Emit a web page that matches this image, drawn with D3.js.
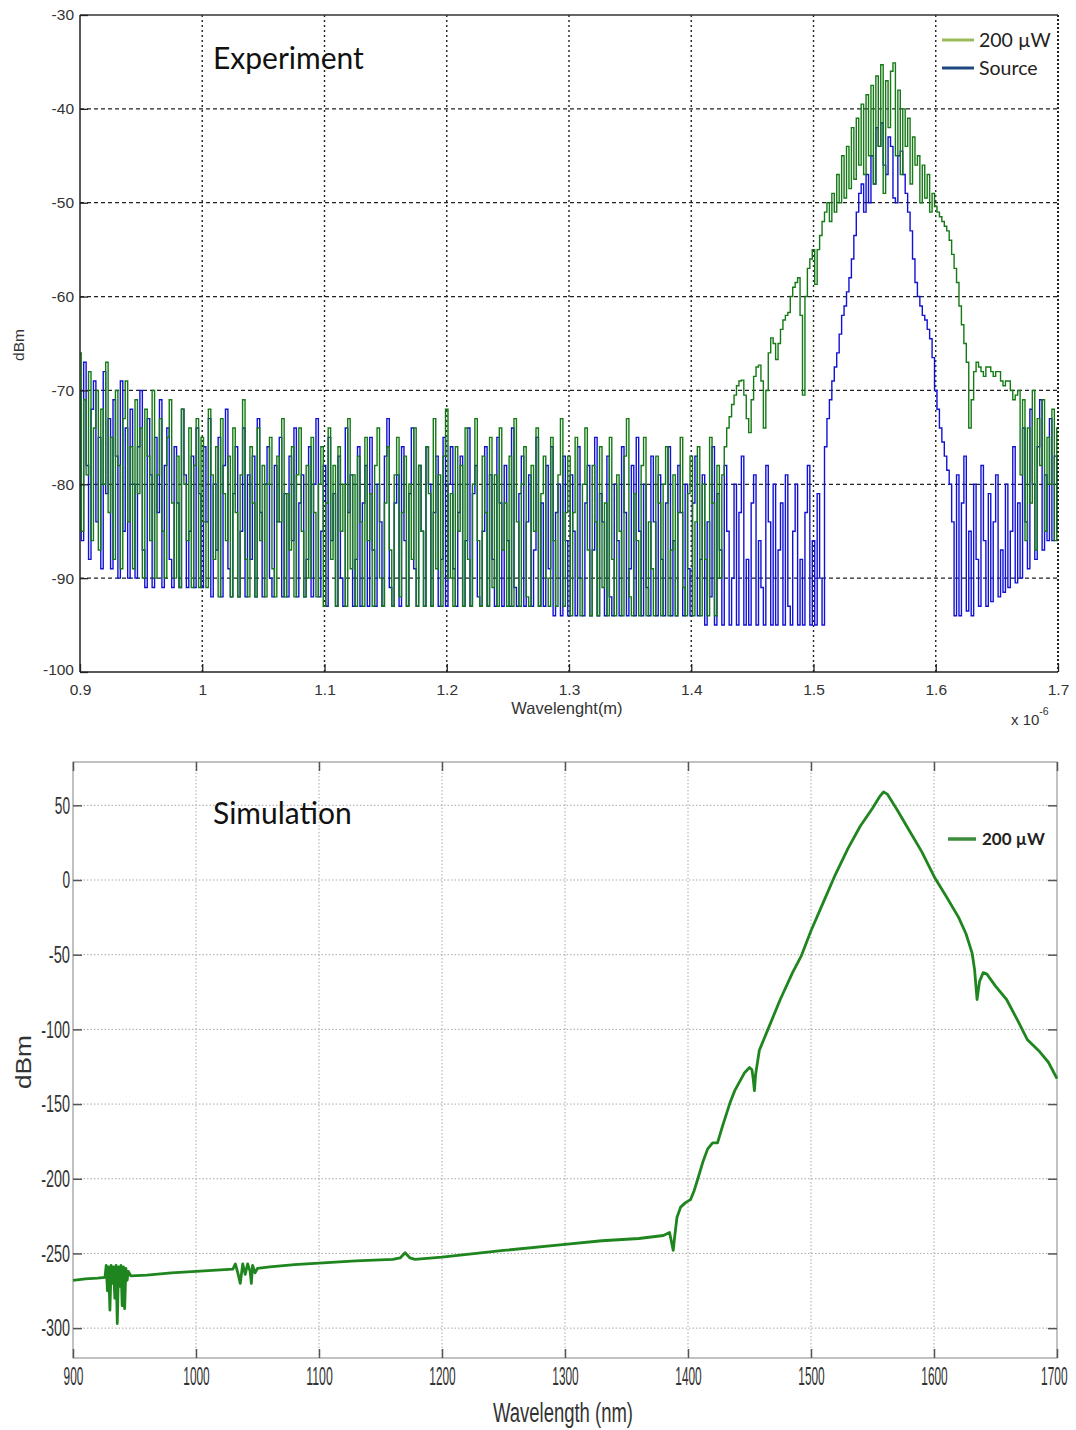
<!DOCTYPE html>
<html><head><meta charset="utf-8">
<script src="https://cdn.jsdelivr.net/npm/d3@7"></script>
<style>body{margin:0;background:#fff}svg{display:block}</style>
</head><body>
<svg id="c" width="1076" height="1430"></svg>
<script>
// ---------- DATA ----------
// Experiment: wavelength grid (µm) start / step (dBm)
const expStart = 0.9, expStep = 0.002;
const expXTicks = [0.9,1.0,1.1,1.2,1.3,1.4,1.5,1.6,1.7];
const expXTickLabels = ["0.9","1","1.1","1.2","1.3","1.4","1.5","1.6","1.7"];
const expYTicks = [-30,-40,-50,-60,-70,-80,-90,-100];
const exp200uW = [
 // 0.9 - 1.0
 -66,-85,-71,-79,-68,-86,-74,-70,-87,-72,-80,-67,-83,-75,-88,-70,-78,-89,-73,-69,-84,-76,-89,-71,-81,
 -74,-90,-72,-77,-86,-70,-90,-79,-73,-85,-90,-75,-71,-82,-90,-77,-91,-72,-80,-86,-74,-91,-78,-73,-91,
 // 1.0 - 1.1
 -75,-84,-91,-72,-79,-88,-76,-92,-73,-81,-86,-77,-92,-74,-83,-92,-79,-71,-88,-92,-76,-82,-92,-74,-86,
 -78,-92,-80,-75,-89,-92,-77,-84,-73,-92,-81,-87,-76,-92,-79,-74,-85,-92,-78,-90,-75,-83,-92,-80,-76,
 // 1.1 - 1.2
 -93,-82,-74,-88,-78,-93,-76,-85,-80,-93,-73,-89,-79,-93,-77,-84,-93,-75,-86,-81,-93,-78,-74,-90,-93,
 -82,-76,-87,-93,-79,-75,-92,-83,-77,-93,-80,-88,-74,-93,-78,-85,-93,-76,-81,-93,-73,-89,-79,-93,-77,
 // 1.2 - 1.3
 -72,-90,-81,-93,-76,-85,-78,-93,-74,-88,-93,-80,-73,-86,-93,-77,-83,-93,-75,-91,-79,-93,-74,-87,-82,
 -93,-77,-93,-73,-84,-93,-80,-76,-92,-93,-78,-85,-74,-93,-81,-77,-90,-93,-75,-86,-93,-79,-73,-93,-83,
 // 1.3 - 1.4
 -77,-94,-83,-75,-90,-94,-80,-74,-87,-94,-78,-84,-94,-76,-91,-82,-94,-75,-88,-94,-79,-85,-94,-77,-73,
 -92,-94,-81,-86,-94,-78,-75,-94,-84,-89,-94,-77,-82,-94,-80,-76,-94,-87,-79,-94,-83,-75,-91,-94,-81,
 // 1.4 - 1.43
 -77,-94,-84,-76,-94,-80,-88,-94,-75,-82,-94,-78,-90,-79,-76,
 // 1.43 - 1.51
 -74,-72.8,-71.5,-70.5,-69.5,-69,-68.9,-70.5,-73,-74.5,-71,-68.5,-67.5,-67.3,-69,-74,-70,-66,-64.4,-65,
 -66.7,-65,-63.5,-62.5,-62,-61.7,-60,-59,-58.5,-58,-62,-70.5,-60,-57,-56,-55,-58.7,-55,-53.5,-52,-51,
 // 1.512 - 1.6
 -50,-52,-49,-51,-47,-50,-45,-49.5,-44,-48.5,-42,-47.5,-41,-46,-39.5,-47,-38.5,-45,-37.5,-48,-36.5,-44,
 -35.3,-49,-37,-42,-36,-35.1,-45,-38,-47,-40,-44,-41,-48,-43,-46,-45,-50,-46,-49.5,-47,-51,-49,-50.4,
 // 1.602 - 1.668
 -51,-51.5,-52,-52.5,-53,-54,-55.5,-57,-58.5,-61,-63,-65,-67,-74,-71,-68,-67,-67.5,-68,-68.5,-67.5,
 -67.5,-68,-68.5,-68,-68,-69,-69.5,-69,-69,-70,-71,-70.5,-70,
 // 1.67 - 1.7
 -79,-71,-86,-74,-82,-70,-87,-73,-78,-71,-85,-75,-80,-72,-86,-74
];
const expSource = [
 // 0.9 - 1.0
 -70,-86,-67,-78,-88,-72,-69,-84,-75,-89,-68,-81,-73,-89,-71,-77,-90,-69,-85,-74,-90,-72,-80,-90,-76,
 -70,-87,-91,-73,-79,-91,-75,-83,-71,-91,-78,-74,-88,-91,-76,-82,-91,-72,-79,-91,-85,-77,-91,-74,-81,
 // 1.0 - 1.1
 -91,-76,-84,-73,-92,-80,-87,-75,-92,-78,-72,-89,-92,-81,-76,-92,-85,-74,-92,-79,-88,-77,-92,-73,-83,
 -92,-80,-76,-90,-92,-78,-84,-75,-92,-81,-92,-77,-86,-74,-92,-82,-79,-92,-88,-76,-92,-80,-73,-92,-85,
 // 1.1 - 1.2
 -78,-93,-75,-86,-81,-93,-77,-90,-93,-74,-83,-79,-93,-88,-76,-93,-82,-78,-93,-75,-87,-93,-80,-84,-93,
 -77,-73,-91,-93,-82,-79,-93,-76,-86,-93,-81,-74,-89,-93,-78,-85,-93,-76,-80,-93,-83,-77,-93,-88,-75,
 // 1.2 - 1.3
 -93,-80,-76,-89,-93,-83,-77,-93,-86,-74,-93,-81,-78,-92,-93,-85,-76,-93,-79,-88,-93,-75,-82,-93,-78,
 -86,-93,-74,-91,-93,-81,-77,-93,-84,-79,-93,-87,-75,-93,-82,-93,-78,-89,-76,-94,-83,-80,-94,-77,-86,
 // 1.3 - 1.4
 -94,-79,-85,-94,-76,-90,-94,-82,-78,-94,-87,-75,-94,-81,-84,-94,-77,-92,-94,-80,-86,-94,-76,-83,-94,
 -89,-78,-94,-75,-85,-94,-80,-91,-94,-77,-84,-94,-79,-88,-94,-82,-76,-94,-86,-94,-78,-83,-94,-80,-89,
 // 1.4 - 1.51
 -94,-82,-77,-94,-88,-79,-95,-84,-92,-76,-95,-81,-87,-95,-78,-85,-95,-90,-80,-95,-83,-77,-95,-88,-95,
 -82,-79,-95,-86,-91,-95,-78,-84,-95,-80,-95,-87,-82,-95,-79,-93,-95,-85,-80,-95,-88,-95,-83,-78,-95,
 -86,-95,-81,-90,-95,-76,
 // 1.512 - 1.6
 -73,-71,-69,-67.5,-66,-64,-62,-61,-59.5,-58,-56,-53.5,-51,-49,-48,-51,-47,-50,-45,-48,-42,-44,-41.5,
 -46,-47,-43,-44,-49.5,-50,-45,-44.5,-47,-49,-51,-53,-56,-58.5,-60,-61,-62,-62.5,-63.5,-64.5,-66.5,-70,
 // 1.602 - 1.668
 -72,-74,-75.5,-77,-78.5,-80,-84,-94,-79,-94,-82,-77,-93.5,-85,-94,-80,-88,-93,-78,-86,-93,-81,-92.5,
 -84,-79,-92,-87,-91.5,-80,-91,-85,-76,-90.5,-82,
 // 1.67 - 1.7
 -90,-74,-84,-89,-72,-80,-88,-76,-71,-87,-79,-86,-73,-86,-77,-85
];
const expSeriesNames = ["200 µW","Source"];

// Simulation: [wavelength nm, dBm]
const simXTicks = [900,1000,1100,1200,1300,1400,1500,1600,1700];
const simYTicks = [50,0,-50,-100,-150,-200,-250,-300];
const sim200uW = [
 [900,-268],[910,-267],[920,-266.5],[926,-266],
 [927,-258],[928,-275],[929,-259],[930,-288],[931,-258],[932,-270],[933,-259],[934,-280],[935,-258],[936,-297],
 [937,-259],[938,-272],[939,-258],[940,-285],[941,-259],[942,-287],[943,-260],[944,-268],[945,-262],[947,-265],
 [960,-264.5],[980,-263],[1000,-262],[1020,-261],[1030,-260.5],
 [1032,-257],[1034,-263],[1036,-270],[1038,-257],[1040,-264],[1042,-257],[1044,-262],[1045,-270],[1046,-258],
 [1048,-263],[1050,-260],
 [1060,-259],[1080,-257.5],[1100,-256.5],[1130,-255],[1160,-254],[1166,-253],[1170,-249.5],[1174,-253],[1178,-254],
 [1200,-252.5],[1250,-248],[1300,-244],[1330,-241.5],[1340,-241],[1360,-240],[1380,-238],[1385,-236],[1387,-244],
 [1388,-248],[1389,-240],[1391,-226],[1394,-219],[1398,-216],[1402,-214],[1405,-208],[1408,-200],[1412,-189],
 [1416,-180],[1420,-176],[1424,-176],[1428,-165],[1434,-149.5],[1438,-141],[1442,-135],[1446,-129],[1450,-125.5],
 [1452,-127],[1453,-133],[1454,-141],[1455,-130],[1458,-114],[1465,-100],[1475,-80],[1485,-62],[1492,-51],
 [1500,-34],[1510,-15],[1520,4],[1530,21],[1540,36],[1550,48],[1556,56],[1559,59],[1562,57.5],[1570,47],[1580,33],
 [1590,19],[1601,1],[1610,-11],[1620,-25],[1626,-36],[1631,-49],[1633,-60],[1635,-80],[1637,-68],[1640,-62],
 [1643,-63],[1650,-71],[1659,-80],[1668,-94],[1676,-107],[1686,-115],[1693,-122],[1700,-133]
];

// ---------- DRAW ----------
const svg = d3.select("#c");
const sans = "'Liberation Sans', Arial, sans-serif";
const cal = "Lato, 'Open Sans', sans-serif";
const fmt = d => String(d);

// ===== Experiment chart =====
const x1 = d3.scaleLinear([0.9,1.7],[80,1058]);
const y1 = d3.scaleLinear([-100,-30],[672,15]);
const g1 = svg.append("g");
g1.selectAll(".hg").data(expYTicks.filter(d=>d>-100&&d<-30)).join("line")
  .attr("x1",80).attr("x2",1058).attr("y1",d=>y1(d)).attr("y2",d=>y1(d))
  .attr("stroke","#222").attr("stroke-width",1.2).attr("stroke-dasharray","4,3");
g1.selectAll(".vg").data(expXTicks.slice(1,-1)).join("line")
  .attr("y1",15).attr("y2",672).attr("x1",d=>x1(d)).attr("x2",d=>x1(d))
  .attr("stroke","#222").attr("stroke-width",1.4).attr("stroke-dasharray","2,3");

const idx = (arr)=>arr.map((v,i)=>[expStart+i*expStep, v]);
const lineE = d3.line().x(d=>x1(d[0])).y(d=>y1(d[1])).curve(d3.curveStep);
g1.append("path").attr("d",lineE(idx(expSource))).attr("fill","none")
  .attr("stroke","#1212d6").attr("stroke-width",1.4);
g1.append("path").attr("d",lineE(idx(exp200uW))).attr("fill","none")
  .attr("stroke","#157a15").attr("stroke-width",1.4);

// frame
g1.append("line").attr("x1",80).attr("x2",1058).attr("y1",15).attr("y2",15).attr("stroke","#333").attr("stroke-width",1.3);
g1.append("line").attr("x1",80).attr("x2",1058).attr("y1",672).attr("y2",672).attr("stroke","#222").attr("stroke-width",1.5);
g1.append("line").attr("x1",80).attr("x2",80).attr("y1",15).attr("y2",672).attr("stroke","#222").attr("stroke-width",1.5);
g1.append("line").attr("x1",1058).attr("x2",1058).attr("y1",15).attr("y2",672).attr("stroke","#222").attr("stroke-width",2).attr("stroke-dasharray","2,2");

const ax1 = g1.append("g").attr("transform","translate(0,672)")
  .call(d3.axisBottom(x1).tickValues(expXTicks).tickFormat((d,i)=>expXTickLabels[i]).tickSize(-8).tickPadding(12));
const ay1 = g1.append("g").attr("transform","translate(80,0)")
  .call(d3.axisLeft(y1).tickValues(expYTicks).tickFormat(fmt).tickSize(-8).tickPadding(6));
[ax1,ay1].forEach(a=>{a.select(".domain").remove();
  a.selectAll("line").attr("stroke","#222").attr("stroke-width",1.3);
  a.selectAll("text").attr("font-family",sans).attr("font-size",15.5).attr("fill","#333");});
ay1.selectAll("text").filter(d=>d===-100).attr("dy","0.15em");

g1.append("text").attr("x",567).attr("y",714).attr("text-anchor","middle")
  .attr("font-family",sans).attr("font-size",16.5).attr("fill","#333").text("Wavelenght(m)");
const xs = g1.append("text").attr("x",1011).attr("y",725).attr("font-family",sans).attr("font-size",15).attr("fill","#333");
xs.append("tspan").text("x 10");
xs.append("tspan").attr("dy",-10).attr("font-size",10.5).text("-6");
g1.append("text").attr("transform","translate(24,345) rotate(-90)").attr("text-anchor","middle")
  .attr("font-family",sans).attr("font-size",15.5).attr("fill","#333").text("dBm");
g1.append("text").attr("x",213).attr("y",69).attr("font-family",cal).attr("font-size",30).attr("fill","#111").text("Experiment");

const legCols = ["#9bbb59","#1f497d"];
expSeriesNames.forEach((n,i)=>{
  const yy = 40 + i*28;
  g1.append("line").attr("x1",942).attr("x2",974).attr("y1",yy).attr("y2",yy).attr("stroke",legCols[i]).attr("stroke-width",3);
  g1.append("text").attr("x",979).attr("y",yy+6.5).attr("font-family",cal).attr("font-size",19.5).attr("fill","#222").text(n);
});

// ===== Simulation chart =====
const x2 = d3.scaleLinear([900,1700],[73,1057]);
const y2 = d3.scaleLinear([-320,79],[1358,762]);
const g2 = svg.append("g");
g2.selectAll(".hg").data(simYTicks).join("line")
  .attr("x1",73).attr("x2",1057).attr("y1",d=>y2(d)).attr("y2",d=>y2(d))
  .attr("stroke","#aaa").attr("stroke-width",1).attr("stroke-dasharray","1.5,2");
g2.selectAll(".vg").data(simXTicks.slice(1,-1)).join("line")
  .attr("y1",762).attr("y2",1358).attr("x1",d=>x2(d)).attr("x2",d=>x2(d))
  .attr("stroke","#aaa").attr("stroke-width",1).attr("stroke-dasharray","1.5,2");
g2.append("rect").attr("x",73).attr("y",762).attr("width",984).attr("height",596)
  .attr("fill","none").attr("stroke","#999").attr("stroke-width",1.2);

const ax2 = g2.append("g").attr("transform","translate(0,1358)")
  .call(d3.axisBottom(x2).tickValues(simXTicks).tickFormat(fmt).tickSize(-9).tickPadding(9));
const axt2 = g2.append("g").attr("transform","translate(0,762)")
  .call(d3.axisTop(x2).tickValues(simXTicks).tickFormat("").tickSize(-9));
const ay2 = g2.append("g").attr("transform","translate(73,0)")
  .call(d3.axisLeft(y2).tickValues(simYTicks).tickFormat(fmt).tickSize(-9).tickPadding(3));
const ayr2 = g2.append("g").attr("transform","translate(1057,0)")
  .call(d3.axisRight(y2).tickValues(simYTicks).tickFormat("").tickSize(-9));
[ax2,axt2,ay2,ayr2].forEach(a=>{a.select(".domain").remove();
  a.selectAll("line").attr("stroke","#555").attr("stroke-width",1.5);});
ax2.selectAll("text").attr("font-family",sans).attr("font-size",25).attr("fill","#333")
  .attr("lengthAdjust","spacingAndGlyphs").attr("textLength",d=>String(d).length*6.6);
ax2.selectAll("text").filter(d=>d===1700).attr("text-anchor","end").attr("x",10);
ay2.selectAll("text").attr("font-family",sans).attr("font-size",24).attr("fill","#333")
  .attr("lengthAdjust","spacingAndGlyphs")
  .attr("textLength",d=>{const s=String(d);return s.replace("-","").length*7.6+(s[0]==="-"?6:0);});

const lineS = d3.line().x(d=>x2(d[0])).y(d=>y2(d[1])).curve(d3.curveLinear);
g2.append("path").attr("d",lineS(sim200uW)).attr("fill","none")
  .attr("stroke","#1f861f").attr("stroke-width",2.8).attr("stroke-linejoin","round");

g2.append("text").attr("x",563).attr("y",1422).attr("text-anchor","middle")
  .attr("font-family",sans).attr("font-size",27).attr("fill","#333")
  .attr("textLength",140).attr("lengthAdjust","spacingAndGlyphs").text("Wavelength (nm)");
g2.append("text").attr("transform","translate(31,1062) rotate(-90)").attr("text-anchor","middle")
  .attr("font-family",sans).attr("font-size",22).attr("fill","#333")
  .attr("textLength",54).attr("lengthAdjust","spacingAndGlyphs").text("dBm");
g2.append("text").attr("x",213).attr("y",824).attr("font-family",cal).attr("font-size",30).attr("fill","#111").text("Simulation");
g2.append("line").attr("x1",948).attr("x2",976).attr("y1",839).attr("y2",839).attr("stroke","#3c8c3c").attr("stroke-width",3.5);
g2.append("text").attr("x",982).attr("y",845).attr("font-family",cal).attr("font-weight","bold")
  .attr("font-size",17).attr("fill","#222").text("200 µW");
</script>
</body></html>
